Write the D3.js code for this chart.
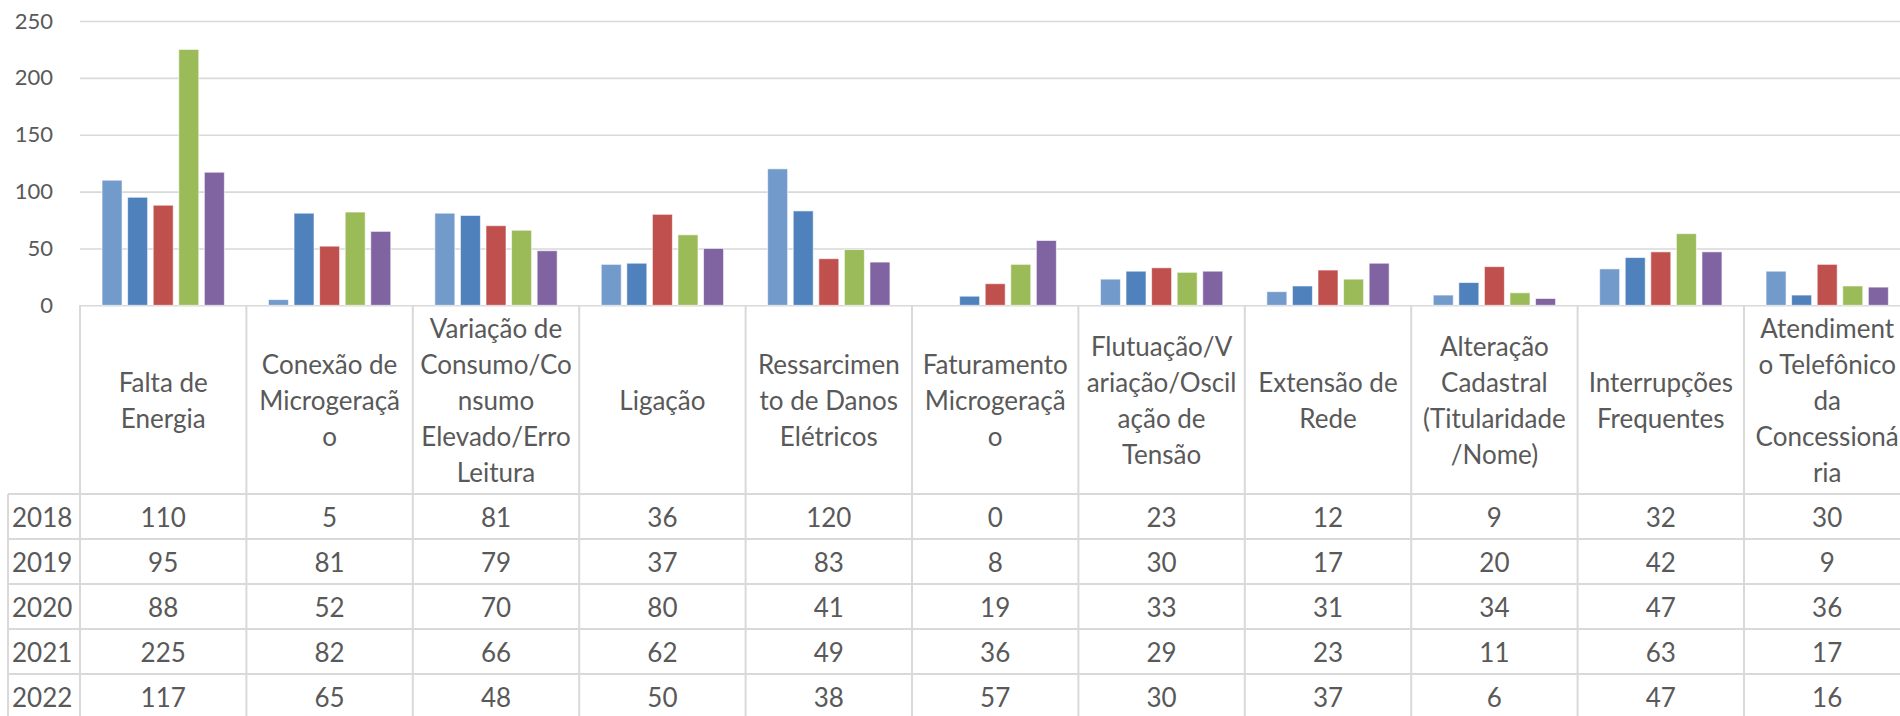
<!DOCTYPE html>
<html>
<head>
<meta charset="utf-8">
<script src="https://cdn.jsdelivr.net/npm/d3@7"></script>
<style>
  body{margin:0;background:#fff;}
  text{font-family:Lato,"Open Sans",sans-serif;fill:#595959;}
</style>
</head>
<body>
<div id="chart"></div>
<script>
// categories as they appear in the data table, with the wrapped lines of the header
const categories = [
  "Falta de Energia","Conexão de Microgeração","Variação de Consumo/Consumo Elevado/Erro Leitura",
  "Ligação","Ressarcimento de Danos Elétricos","Faturamento Microgeração",
  "Flutuação/Variação/Oscilação de Tensão","Extensão de Rede","Alteração Cadastral (Titularidade/Nome)",
  "Interrupções Frequentes","Atendimento Telefônico da Concessionária"
];
const categoryLines = [
  ["Falta de","Energia"],
  ["Conexão de","Microgeraçã","o"],
  ["Variação de","Consumo/Co","nsumo","Elevado/Erro","Leitura"],
  ["Ligação"],
  ["Ressarcimen","to de Danos","Elétricos"],
  ["Faturamento","Microgeraçã","o"],
  ["Flutuação/V","ariação/Oscil","ação de","Tensão"],
  ["Extensão de","Rede"],
  ["Alteração","Cadastral","(Titularidade","/Nome)"],
  ["Interrupções","Frequentes"],
  ["Atendiment","o Telefônico","da","Concessioná","ria"]
];
const years = ["2018","2019","2020","2021","2022"];
const v2018 = [110,5,81,36,120,0,23,12,9,32,30];
const v2019 = [95,81,79,37,83,8,30,17,20,42,9];
const v2020 = [88,52,70,80,41,19,33,31,34,47,36];
const v2021 = [225,82,66,62,49,36,29,23,11,63,17];
const v2022 = [117,65,48,50,38,57,30,37,6,47,16];
const yTicks = [0,50,100,150,200,250];
const colors = ["#729aca","#4f81bd","#c0504d","#9bbb59","#8064a2"];

const series = [v2018,v2019,v2020,v2021,v2022];

const W = 1900, H = 716;
const plotLeft = 80, catW = 166.4;
const headerBottom = 494, rowH = 45;
const lineH = 36;
const tableFont = 26;
const gridColor = "#d9d9d9";

const svg = d3.select("#chart")
  .append("svg")
  .attr("width",W)
  .attr("height",H);

const x0 = d3.scaleBand()
  .domain(categories)
  .range([plotLeft, plotLeft + catW*categories.length])
  .padding(0);
const x1 = d3.scaleBand()
  .domain(years)
  .range([0, x0.bandwidth()])
  .paddingInner(0.218)
  .paddingOuter(0.862);
const y = d3.scaleLinear().domain([0,250]).range([305.3,21]);

// gridlines + tick labels
const yAxis = svg.append("g")
  .attr("transform",`translate(${plotLeft},0)`)
  .call(d3.axisLeft(y).tickValues(yTicks).tickSize(-(W-plotLeft)).tickPadding(27));
yAxis.select(".domain").remove();
yAxis.selectAll(".tick line").attr("stroke",gridColor).attr("stroke-width",1.6);
yAxis.selectAll(".tick text")
  .attr("font-size",22)
  .attr("font-family","Lato")
  .attr("fill","#595959");

// bars
const flat = [];
categories.forEach((c,i) => {
  years.forEach((yr,j) => flat.push({cat:c, year:yr, value:series[j][i], k:j}));
});
svg.append("g")
  .selectAll("rect")
  .data(flat)
  .join("rect")
  .attr("x",d => x0(d.cat) + x1(d.year))
  .attr("y",d => y(d.value))
  .attr("width",x1.bandwidth())
  .attr("height",d => y(0) - y(d.value))
  .attr("fill",d => colors[d.k])
  .attr("stroke","#fff")
  .attr("stroke-opacity",0.6)
  .attr("stroke-width",1);

// data table
const table = svg.append("g");
const tableTop = y(0);
const tableBottom = headerBottom + rowH*years.length;

// vertical column lines
const colEdges = categories.map(c => x0(c)).concat([x0(categories[categories.length-1]) + x0.bandwidth()]);
table.selectAll("line.v")
  .data(colEdges)
  .join("line")
  .attr("class","v")
  .attr("x1",d => d).attr("x2",d => d)
  .attr("y1",tableTop).attr("y2",tableBottom)
  .attr("stroke",gridColor).attr("stroke-width",2);

table.append("line")
  .attr("x1",8).attr("x2",8)
  .attr("y1",headerBottom).attr("y2",tableBottom)
  .attr("stroke",gridColor).attr("stroke-width",2);

// horizontal row lines
table.selectAll("line.h")
  .data(d3.range(years.length+1))
  .join("line")
  .attr("class","h")
  .attr("x1",8).attr("x2",W)
  .attr("y1",d => headerBottom + d*rowH).attr("y2",d => headerBottom + d*rowH)
  .attr("stroke",gridColor).attr("stroke-width",2);

// header labels
const headerMid = (tableTop + headerBottom)/2;
table.selectAll("text.head")
  .data(categories)
  .join("text")
  .attr("class","head")
  .attr("text-anchor","middle")
  .attr("font-size",tableFont)
  .each(function(c,i){
    const lines = categoryLines[i];
    const cx = x0(c) + x0.bandwidth()/2;
    const y0 = headerMid - (lines.length-1)/2*lineH;
    d3.select(this).selectAll("tspan")
      .data(lines)
      .join("tspan")
      .attr("x",cx)
      .attr("y",(d,k) => y0 + k*lineH)
      .attr("dominant-baseline","central")
      .text(d => d);
  });

// year labels
table.selectAll("text.year")
  .data(years)
  .join("text")
  .attr("class","year")
  .attr("x",12)
  .attr("y",(d,j) => headerBottom + j*rowH + rowH/2)
  .attr("dominant-baseline","central")
  .attr("font-size",tableFont)
  .text(d => d);

// cell values
table.selectAll("text.cell")
  .data(flat)
  .join("text")
  .attr("class","cell")
  .attr("x",d => x0(d.cat) + x0.bandwidth()/2)
  .attr("y",d => headerBottom + d.k*rowH + rowH/2)
  .attr("text-anchor","middle")
  .attr("dominant-baseline","central")
  .attr("font-size",tableFont)
  .text(d => d.value);
</script>
</body>
</html>
